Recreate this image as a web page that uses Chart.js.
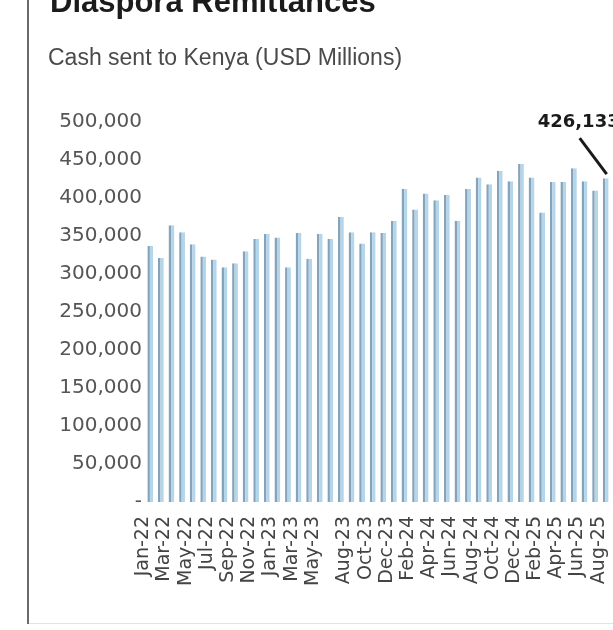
<!DOCTYPE html>
<html>
<head>
<meta charset="utf-8">
<title>Diaspora Remittances</title>
<script src="https://cdn.jsdelivr.net/npm/chart.js@4.4.1/dist/chart.umd.min.js"></script>
<style>
  html, body { margin: 0; padding: 0; background: #ffffff; }
  #wrap { position: relative; width: 613px; height: 630px; overflow: hidden; }
  canvas { display: block; }
</style>
</head>
<body>
<div id="wrap"><canvas id="chart" width="613" height="630"></canvas></div>
<script>
// Monthly diaspora remittances to Kenya, USD (thousands shown as reported)
const months = [
  'Jan-22','Feb-22','Mar-22','Apr-22','May-22','Jun-22','Jul-22','Aug-22','Sep-22','Oct-22','Nov-22','Dec-22',
  'Jan-23','Feb-23','Mar-23','Apr-23','May-23','Jun-23','Jul-23','Aug-23','Sep-23','Oct-23','Nov-23','Dec-23',
  'Jan-24','Feb-24','Mar-24','Apr-24','May-24','Jun-24','Jul-24','Aug-24','Sep-24','Oct-24','Nov-24','Dec-24',
  'Jan-25','Feb-25','Mar-25','Apr-25','May-25','Jun-25','Jul-25','Aug-25'
];

const remittances = [
  337000, 321000, 364000, 355000, 339000, 323000, 319000, 309000, 314000, 330000, 346000, 353000,
  348000, 309000, 354000, 320000, 353000, 346000, 375000, 355000, 340000, 355000, 354000, 370000,
  412000, 385000, 406000, 397000, 404000, 370000, 412000, 427000, 418000, 436000, 422000, 445000,
  427000, 381000, 421000, 421000, 439000, 422000, 410000, 426133
];

// Month labels printed under the axis
const shownMonths = [
  'Jan-22','Mar-22','May-22','Jul-22','Sep-22','Nov-22','Jan-23','Mar-23','May-23',
  'Aug-23','Oct-23','Dec-23','Feb-24','Apr-24','Jun-24','Aug-24','Oct-24','Dec-24',
  'Feb-25','Apr-25','Jun-25','Aug-25'
];

const yMax = 500000;
const yStep = 50000;

const titleText = 'Diaspora Remittances';
const subtitleText = 'Cash sent to Kenya (USD Millions)';

const fmt = v => v === 0 ? '-' : Math.round(v).toLocaleString('en-US');

// Heading, frame lines and the callout on the latest month
const decor = {
  id: 'decor',
  beforeDraw(chart) {
    const ctx = chart.ctx;
    ctx.save();
    ctx.fillStyle = '#ffffff';
    ctx.fillRect(0, 0, chart.width, chart.height);

    ctx.strokeStyle = '#6b6b6b';
    ctx.lineWidth = 2;
    ctx.beginPath();
    ctx.moveTo(28, 0);
    ctx.lineTo(28, 624);
    ctx.stroke();

    ctx.strokeStyle = '#e2e2e2';
    ctx.lineWidth = 1;
    ctx.beginPath();
    ctx.moveTo(29, 623.5);
    ctx.lineTo(chart.width, 623.5);
    ctx.stroke();

    ctx.fillStyle = '#1b1b1b';
    ctx.font = 'bold 31px "Liberation Sans", Arial, sans-serif';
    ctx.textAlign = 'left';
    ctx.textBaseline = 'alphabetic';
    ctx.fillText(titleText, 50, 12);

    ctx.fillStyle = '#4a4a4a';
    ctx.font = '23px "Liberation Sans", Arial, sans-serif';
    ctx.textBaseline = 'middle';
    ctx.fillText(subtitleText, 48, 59);
    ctx.restore();
  },
  afterDatasetsDraw(chart) {
    const ctx = chart.ctx;
    const meta = chart.getDatasetMeta(0);
    const last = meta.data.length - 1;
    const bar = meta.data[last];
    const value = chart.data.datasets[0].data[last];
    ctx.save();
    ctx.strokeStyle = '#1a1a1a';
    ctx.lineWidth = 3;
    ctx.lineCap = 'butt';
    ctx.beginPath();
    ctx.moveTo(bar.x - 26, bar.y - 40);
    ctx.lineTo(bar.x + 1, bar.y - 4);
    ctx.stroke();

    ctx.fillStyle = '#1a1a1a';
    ctx.font = 'bold 18px "DejaVu Sans", sans-serif';
    ctx.textAlign = 'left';
    ctx.textBaseline = 'middle';
    ctx.fillText(fmt(value), bar.x - 68, bar.y - 56);
    ctx.restore();
  }
};

new Chart(document.getElementById('chart'), {
  type: 'bar',
  data: {
    labels: months,
    datasets: [{
      data: remittances,
      backgroundColor: '#b4d6ea',
      borderColor: '#87a3ba',
      borderWidth: { left: 2.5, right: 0, top: 0, bottom: 0 },
      borderSkipped: false,
      barPercentage: 0.55,
      categoryPercentage: 1.0
    }]
  },
  options: {
    responsive: false,
    animation: false,
    devicePixelRatio: 1,
    layout: { padding: { top: 122, right: 2, bottom: 0, left: 0 } },
    plugins: {
      legend: { display: false },
      tooltip: { enabled: false },
      title: { display: false }
    },
    scales: {
      x: {
        grid: { display: false, drawTicks: false },
        border: { display: false },
        afterFit(scale) {
          scale.height = 128;
          scale.paddingLeft = 0;
          scale.paddingRight = 0;
        },
        ticks: {
          autoSkip: false,
          maxRotation: 90,
          minRotation: 90,
          padding: 14,
          labelOffset: -7,
          color: '#444444',
          font: { family: '"DejaVu Sans", sans-serif', size: 19 },
          callback(value) {
            const lab = months[value];
            return shownMonths.includes(lab) ? lab : '';
          }
        }
      },
      y: {
        min: 0,
        max: yMax,
        grid: { display: false, drawTicks: false },
        border: { display: false },
        afterFit(scale) {
          scale.width = 145;
          scale.paddingTop = 0;
          scale.paddingBottom = 0;
        },
        ticks: {
          stepSize: yStep,
          padding: 3,
          color: '#555555',
          font: { family: '"DejaVu Sans", sans-serif', size: 20 },
          callback: v => fmt(v)
        }
      }
    }
  },
  plugins: [decor]
});
</script>
</body>
</html>
